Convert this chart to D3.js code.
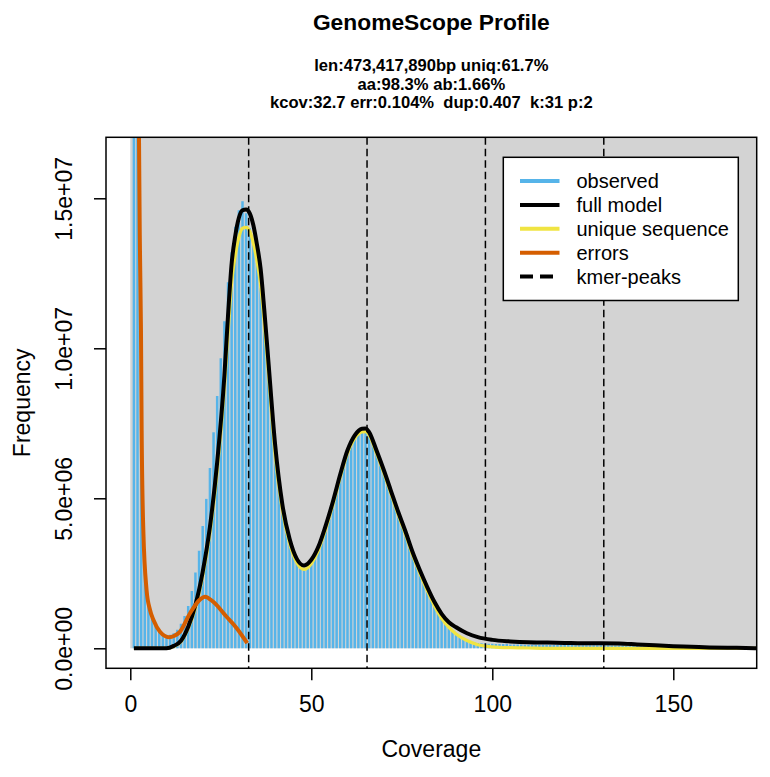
<!DOCTYPE html>
<html>
<head>
<meta charset="utf-8">
<script src="https://cdn.jsdelivr.net/npm/d3@7"></script>
<style>
  html, body { margin: 0; padding: 0; background: #ffffff; }
  svg { display: block; font-family: "Liberation Sans", Arial, Helvetica, sans-serif; }
</style>
</head>
<body>
<svg id="chart" width="770" height="777"></svg>
<script>
// ---------------- data ----------------
const titleText = "GenomeScope Profile";
const subtitleLines = [
  "len:473,417,890bp uniq:61.7%",
  "aa:98.3% ab:1.66%",
  "kcov:32.7 err:0.104%  dup:0.407  k:31 p:2"
];
const xLabel = "Coverage";
const yLabel = "Frequency";
const xTicks = [0, 50, 100, 150];
const xTickLabels = ["0", "50", "100", "150"];
const yTicks = [0, 5e6, 1e7, 1.5e7];
const yTickLabels = ["0.0e+00", "5.0e+06", "1.0e+07", "1.5e+07"];
const kmerPeaks = [32.7, 65.4, 98.1, 130.8];

const legendLabels = ["observed", "full model", "unique sequence", "errors", "kmer-peaks"];

// observed histogram, coverage 1..173 (frequency in millions)
const observedCov = d3.range(1, 174);
const observedFreqM = [
  60, 30, 9.5, 2.8, 1.45, 1.0, 0.75, 0.6, 0.5, 0.45,
  0.45, 0.5, 0.62, 0.82, 1.08, 1.41, 1.91, 2.53, 3.25, 4.08,
  4.98, 6.01, 7.2, 8.41, 9.67, 10.9, 12.2, 13.2, 14.05, 14.6,
  14.9, 14.5, 14.0, 13.5, 12.85, 12.0, 10.9, 9.4, 7.9, 6.5,
  5.4, 4.6, 4.0, 3.5, 3.15, 2.85, 2.7, 2.63, 2.68, 2.8,
  3.0, 3.28, 3.6, 3.98, 4.38, 4.8, 5.25, 5.7, 6.1, 6.5,
  6.8, 7.0, 7.15, 7.21, 7.2, 7.1, 6.85, 6.5, 6.2, 5.85,
  5.5, 5.15, 4.8, 4.45, 4.1, 3.8, 3.45, 3.1, 2.8, 2.5,
  2.2, 1.93, 1.66, 1.42, 1.2, 1.0, 0.84, 0.7, 0.58, 0.48,
  0.4, 0.33, 0.27, 0.23, 0.2, 0.18, 0.17, 0.16, 0.15, 0.15,
  0.14, 0.14, 0.14, 0.14, 0.13, 0.13, 0.13, 0.13, 0.12, 0.12,
  0.12, 0.12, 0.12, 0.12, 0.12, 0.11, 0.11, 0.11, 0.11, 0.11,
  0.11, 0.11, 0.1, 0.1, 0.1, 0.1, 0.1, 0.1, 0.1, 0.1,
  0.1, 0.1, 0.09, 0.09, 0.09, 0.09, 0.08, 0.08, 0.08, 0.08,
  0.07, 0.07, 0.07, 0.07, 0.06, 0.06, 0.06, 0.06, 0.06, 0.05,
  0.05, 0.05, 0.05, 0.05, 0.04, 0.04, 0.04, 0.04, 0.04, 0.03,
  0.03, 0.03, 0.03, 0.03, 0.03, 0.03, 0.02, 0.02, 0.02, 0.02,
  0.02, 0.02, 0.02
];

// model curves (coverage grid + frequency in millions)
const modelCov = [1, 10, 12, 14, 16, 18, 20, 22, 24, 26, 27, 28, 29, 30, 31, 32, 33, 34, 35, 36, 37, 38, 40, 42, 44, 46, 48, 50, 52, 54, 56, 58, 60, 62, 64, 65, 66, 68, 70, 72, 74, 76, 78, 80, 82, 84, 86, 88, 90, 93, 96, 100, 105, 110, 115, 120, 125, 130, 135, 140, 145, 150, 155, 160, 165, 170, 175];
const fullModelM = [0, 0.0, 0.08, 0.25, 0.72, 1.45, 2.55, 4.05, 6.2, 9.1, 11.1, 12.83, 13.75, 14.35, 14.6, 14.63, 14.5, 14.1, 13.45, 12.65, 11.3, 9.8, 6.8, 4.8, 3.65, 2.98, 2.76, 2.95, 3.4, 4.1, 4.9, 5.8, 6.6, 7.1, 7.32, 7.33, 7.2, 6.6, 5.95, 5.25, 4.55, 3.9, 3.2, 2.6, 2.05, 1.55, 1.15, 0.87, 0.7, 0.5, 0.37, 0.28, 0.23, 0.2, 0.19, 0.18, 0.17, 0.17, 0.16, 0.13, 0.1, 0.07, 0.05, 0.03, 0.02, 0.01, 0.0];
const uniqueSeqM = [0, 0.0, 0.06, 0.22, 0.66, 1.35, 2.4, 3.85, 5.9, 8.7, 10.5, 12.2, 13.1, 13.7, 14.0, 14.03, 13.9, 13.5, 12.9, 12.1, 10.85, 9.4, 6.45, 4.6, 3.5, 2.85, 2.63, 2.82, 3.28, 3.98, 4.8, 5.7, 6.5, 7.0, 7.21, 7.22, 7.1, 6.5, 5.85, 5.15, 4.45, 3.8, 3.1, 2.5, 1.93, 1.42, 1.0, 0.7, 0.48, 0.26, 0.12, 0.05, 0.02, 0.01, 0, 0, 0, 0, 0, 0, 0, 0, 0, 0, 0, 0, 0];

// error curve
const errorCov = [2.2, 2.4, 2.7, 2.95, 3.14, 3.6, 4.5, 5.4, 6.4, 8.2, 10.7, 12.2, 13.7, 16.5, 19.3, 20.6, 22.9, 26.6, 29.4, 32.3];
const errorM = [24, 17.1, 13, 10.6, 7.26, 3.94, 1.94, 1.3, 0.94, 0.55, 0.37, 0.42, 0.55, 1.17, 1.63, 1.72, 1.55, 1.05, 0.67, 0.17];

// ---------------- drawing ----------------
const svg = d3.select("#chart");
const W = 770, H = 777;
const box = { left: 106, right: 756.7, top: 137.3, bottom: 668.3 };

const x = d3.scaleLinear().domain([-6.71, 173.04]).range([box.left, box.right]);
const y = d3.scaleLinear().domain([-0.667e6, 17.033e6]).range([box.bottom, box.top]);

const COL_HIST = "#56B4E9", COL_FULL = "#000000", COL_UNIQ = "#F0E442", COL_ERR = "#D55E00", COL_BG = "#D3D3D3";
const FONT = "Liberation Sans, Arial, sans-serif";

svg.append("rect").attr("width", W).attr("height", H).attr("fill", "#ffffff");

svg.append("defs").append("clipPath").attr("id", "plotclip")
  .append("rect")
  .attr("x", box.left).attr("y", box.top)
  .attr("width", box.right - box.left).attr("height", box.bottom - box.top);

const plot = svg.append("g").attr("clip-path", "url(#plotclip)");

// background rect from (0,0) upward/rightward
plot.append("rect")
  .attr("x", x(0)).attr("y", box.top - 5)
  .attr("width", box.right - x(0) + 10)
  .attr("height", y(0) - box.top + 5)
  .attr("fill", COL_BG);

// observed histogram as vertical lines
const obs = observedCov.map((c, i) => ({ c, v: observedFreqM[i] * 1e6 }));
plot.append("g").selectAll("line").data(obs).join("line")
  .attr("x1", d => x(d.c)).attr("x2", d => x(d.c))
  .attr("y1", y(0)).attr("y2", d => y(d.v))
  .attr("stroke", COL_HIST).attr("stroke-width", 2.5);

const lineGen = d3.line().x(d => x(d[0])).y(d => y(d[1])).curve(d3.curveMonotoneX);

const uniqPts = modelCov.map((c, i) => [c, uniqueSeqM[i] * 1e6]);
const fullPts = modelCov.map((c, i) => [c, fullModelM[i] * 1e6]);
const errPts = errorCov.map((c, i) => [c, errorM[i] * 1e6]);

plot.append("path").attr("d", lineGen(uniqPts)).attr("fill", "none")
  .attr("stroke", COL_UNIQ).attr("stroke-width", 3.2).attr("stroke-linejoin", "round");
plot.append("path").attr("d", lineGen(fullPts)).attr("fill", "none")
  .attr("stroke", COL_FULL).attr("stroke-width", 4).attr("stroke-linejoin", "round");
plot.append("path").attr("d", lineGen(errPts)).attr("fill", "none")
  .attr("stroke", COL_ERR).attr("stroke-width", 4).attr("stroke-linejoin", "round");

// kmer peaks
svg.append("g").selectAll("line").data(kmerPeaks).join("line")
  .attr("x1", d => x(d)).attr("x2", d => x(d))
  .attr("y1", box.top).attr("y2", box.bottom)
  .attr("stroke", "#000").attr("stroke-width", 1.5)
  .attr("stroke-dasharray", "7.5,4");

// box
svg.append("rect")
  .attr("x", box.left).attr("y", box.top)
  .attr("width", box.right - box.left).attr("height", box.bottom - box.top)
  .attr("fill", "none").attr("stroke", "#000").attr("stroke-width", 1.5);

// x axis
const xAxis = d3.axisBottom(x).tickValues(xTicks)
  .tickFormat((d, i) => xTickLabels[i]).tickSize(12).tickPadding(15);
const gx = svg.append("g").attr("transform", `translate(0,${box.bottom})`).call(xAxis);
gx.select(".domain").remove();
gx.selectAll("line").attr("stroke", "#000").attr("stroke-width", 1.5);
gx.selectAll("text").attr("font-size", 23).attr("fill", "#000").attr("font-family", FONT);

// y axis
const yAxis = d3.axisLeft(y).tickValues(yTicks)
  .tickFormat((d, i) => yTickLabels[i]).tickSize(12).tickPadding(0);
const gy = svg.append("g").attr("transform", `translate(${box.left},0)`).call(yAxis);
gy.select(".domain").remove();
gy.selectAll("line").attr("stroke", "#000").attr("stroke-width", 1.5);
gy.selectAll("text")
  .attr("font-size", 23).attr("fill", "#000").attr("font-family", FONT)
  .attr("x", null).attr("dy", null)
  .attr("text-anchor", "middle")
  .attr("transform", `translate(${72 - box.left},0) rotate(-90)`);

// axis labels
svg.append("text").attr("x", (box.left + box.right) / 2).attr("y", 757)
  .attr("text-anchor", "middle").attr("font-size", 23).attr("font-family", FONT).text(xLabel);
svg.append("text")
  .attr("transform", `translate(30,${(box.top + box.bottom) / 2}) rotate(-90)`)
  .attr("text-anchor", "middle").attr("font-size", 23).attr("font-family", FONT).text(yLabel);

// title
svg.append("text").attr("x", (box.left + box.right) / 2).attr("y", 30)
  .attr("text-anchor", "middle").attr("font-size", 22.8).attr("font-weight", "bold")
  .attr("font-family", FONT).text(titleText);
svg.append("g").selectAll("text").data(subtitleLines).join("text")
  .attr("x", (box.left + box.right) / 2)
  .attr("y", (d, i) => 71 + i * 18.6)
  .attr("text-anchor", "middle").attr("font-size", 16.6).attr("font-weight", "bold")
  .attr("font-family", FONT)
  .attr("xml:space", "preserve").style("white-space", "pre")
  .text(d => d);

// legend
const leg = { left: 503.3, right: 738.3, top: 157.3, bottom: 300.5 };
const lg = svg.append("g");
lg.append("rect").attr("x", leg.left).attr("y", leg.top)
  .attr("width", leg.right - leg.left).attr("height", leg.bottom - leg.top)
  .attr("fill", "#fff").attr("stroke", "#000").attr("stroke-width", 1.5);
const legColors = [COL_HIST, COL_FULL, COL_UNIQ, COL_ERR, "#000"];
const rowY = i => 181 + i * 23.9;
lg.selectAll("line").data(legendLabels).join("line")
  .attr("x1", 520).attr("x2", 559.5)
  .attr("y1", (d, i) => rowY(i)).attr("y2", (d, i) => rowY(i))
  .attr("stroke", (d, i) => legColors[i]).attr("stroke-width", 4)
  .attr("stroke-dasharray", (d, i) => i === 4 ? "13,7" : null);
lg.selectAll("text").data(legendLabels).join("text")
  .attr("x", 576.5).attr("y", (d, i) => rowY(i) + 7)
  .attr("font-size", 20).attr("font-family", FONT).text(d => d);
</script>
</body>
</html>
